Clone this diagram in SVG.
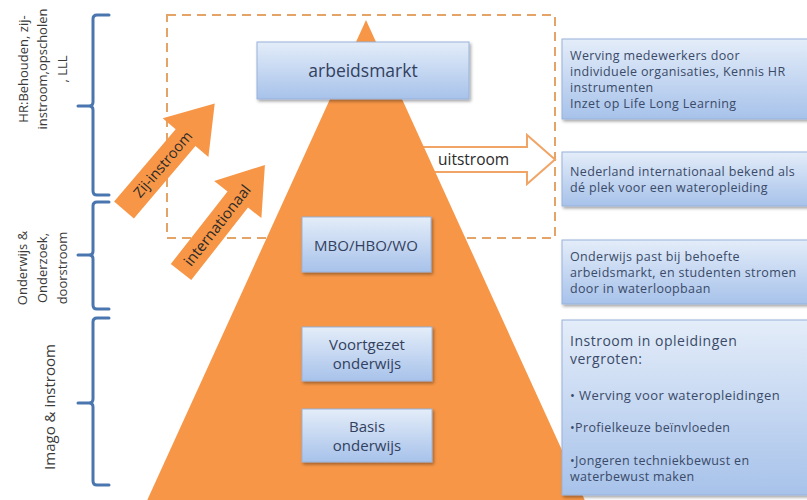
<svg xmlns="http://www.w3.org/2000/svg" width="807" height="500" viewBox="0 0 807 500">
<defs>
<linearGradient id="blue" x1="0" y1="0" x2="0" y2="1">
<stop offset="0" stop-color="#e4edf9"/>
<stop offset="1" stop-color="#a7c2ea"/>
</linearGradient>
<filter id="sh" x="-10%" y="-10%" width="130%" height="140%">
<feDropShadow dx="1.5" dy="2" stdDeviation="1.5" flood-color="#000" flood-opacity="0.35"/>
</filter>
<style>
.box{fill:url(#blue);stroke:#98b2da;stroke-width:1;filter:url(#sh)}
.bt{font-family:"Open Sans","Liberation Sans",sans-serif;font-size:12.5px;letter-spacing:0.35px;fill:#3a4a68}
.ct{font-family:"Open Sans","Liberation Sans",sans-serif;font-size:15px;fill:#33415e;text-anchor:middle}
.lt{font-family:"Open Sans","Liberation Sans",sans-serif;font-size:13px;fill:#3a3a3a;text-anchor:middle}
.br{fill:none;stroke:#4a76b0;stroke-width:3;stroke-linecap:round}
.arr{fill:#f79646}
.at{font-family:"Open Sans","Liberation Sans",sans-serif;font-size:14.5px;fill:#2a2a2a;text-anchor:middle}
</style>
</defs>
<rect width="807" height="500" fill="#fff"/>

<g id="dashed-frame">
<rect x="167" y="15" width="388" height="223" fill="none" stroke="#e4a468" stroke-width="2" stroke-dasharray="9,6"/>
</g>

<g id="connectors">
<g id="uitstroom">
<path d="M415,147 H527 V135 L555,159.5 L527,184 V172 H415 Z" fill="#fff" stroke="#f0a466" stroke-width="2"/>
<text x="438" y="165" class="at" style="font-size:15.5px;text-anchor:start">uitstroom</text>
</g>
</g>

<g id="pyramid">
<polygon points="366,20 145,505 587,505" fill="#f79646"/>
</g>

<g id="connectors-in">
<g id="zij-instroom" transform="translate(124,210) rotate(-49.6)">
<path class="arr" d="M0,-13 H95 V-30 L140,0 L95,30 V13 H0 Z"/>
<text x="60" y="5" class="at">Zij-instroom</text>
</g>
<g id="internationaal" transform="translate(181,272) rotate(-51.9)">
<path class="arr" d="M0,-13 H92 V-30 L136,0 L92,30 V13 H0 Z"/>
<text x="59" y="5" class="at" style="font-size:15px">internationaal</text>
</g>
</g>

<g id="node-arbeidsmarkt">
<rect class="box" x="257" y="42" width="212" height="57"/>
<text class="ct" x="363" y="77" style="font-size:17.5px">arbeidsmarkt</text>
</g>
<g id="node-mbo">
<rect class="box" x="302" y="217" width="129" height="55"/>
<text class="ct" x="366" y="251">MBO/HBO/WO</text>
</g>
<g id="node-voortgezet">
<rect class="box" x="302" y="327" width="130" height="54"/>
<text class="ct" x="367" y="350">Voortgezet</text>
<text class="ct" x="367" y="368.5">onderwijs</text>
</g>
<g id="node-basis">
<rect class="box" x="302" y="409" width="130" height="53"/>
<text class="ct" x="367" y="432">Basis</text>
<text class="ct" x="367" y="450.5">onderwijs</text>
</g>

<g id="desc-hr">
<rect class="box" x="562" y="39" width="250" height="80"/>
<text class="bt" x="570" y="60">Werving medewerkers door</text>
<text class="bt" x="570" y="76">individuele organisaties, Kennis HR</text>
<text class="bt" x="570" y="92">instrumenten</text>
<text class="bt" x="570" y="108">Inzet op Life Long Learning</text>
</g>
<g id="desc-nl">
<rect class="box" x="562" y="152" width="250" height="54"/>
<text class="bt" x="570" y="176">Nederland internationaal bekend als</text>
<text class="bt" x="570" y="192">dé plek voor een wateropleiding</text>
</g>
<g id="desc-onderwijs">
<rect class="box" x="562" y="240" width="250" height="64"/>
<text class="bt" x="570" y="261">Onderwijs past bij behoefte</text>
<text class="bt" x="570" y="277">arbeidsmarkt, en studenten stromen</text>
<text class="bt" x="570" y="293">door in waterloopbaan</text>
</g>
<g id="desc-instroom">
<rect class="box" x="562" y="320" width="250" height="175"/>
<text class="bt" x="570" y="346" style="font-size:14px;letter-spacing:0.5px">Instroom in opleidingen</text>
<text class="bt" x="570" y="364" style="font-size:14px;letter-spacing:0.5px">vergroten:</text>
<text class="bt" x="570" y="400" style="font-size:13px;letter-spacing:0.4px">• Werving voor wateropleidingen</text>
<text class="bt" x="570" y="432">•Profielkeuze beïnvloeden</text>
<text class="bt" x="570" y="465">•Jongeren techniekbewust en</text>
<text class="bt" x="570" y="481">waterbewust maken</text>
</g>

<g id="bracket-hr">
<path class="br" d="M109,15 H97 Q93,15 93,19 V102 Q93,106 89,106 H78 M89,106 Q93,106 93,110 V191 Q93,195 97,195 H109"/>
<g transform="translate(0,69) rotate(-90)">
<text class="lt" x="0" y="28">HR:Behouden, zij-</text>
<text class="lt" x="0" y="47">instroom,opscholen</text>
<text class="lt" x="0" y="67">, LLL</text>
</g>
</g>
<g id="bracket-onderwijs">
<path class="br" d="M109,202 H97 Q93,202 93,206 V251 Q93,255 89,255 H78 M89,255 Q93,255 93,259 V305 Q93,309 97,309 H109"/>
<g transform="translate(0,268) rotate(-90)">
<text class="lt" x="0" y="27">Onderwijs &amp;</text>
<text class="lt" x="0" y="47">Onderzoek,</text>
<text class="lt" x="0" y="67">doorstroom</text>
</g>
</g>
<g id="bracket-imago">
<path class="br" d="M109,318 H97 Q93,318 93,322 V399 Q93,403 89,403 H78 M89,403 Q93,403 93,407 V481 Q93,485 97,485 H109"/>
<g transform="translate(0,407) rotate(-90)">
<text class="lt" x="0" y="55" style="font-size:15px">Imago &amp; instroom</text>
</g>
</g>
</svg>
